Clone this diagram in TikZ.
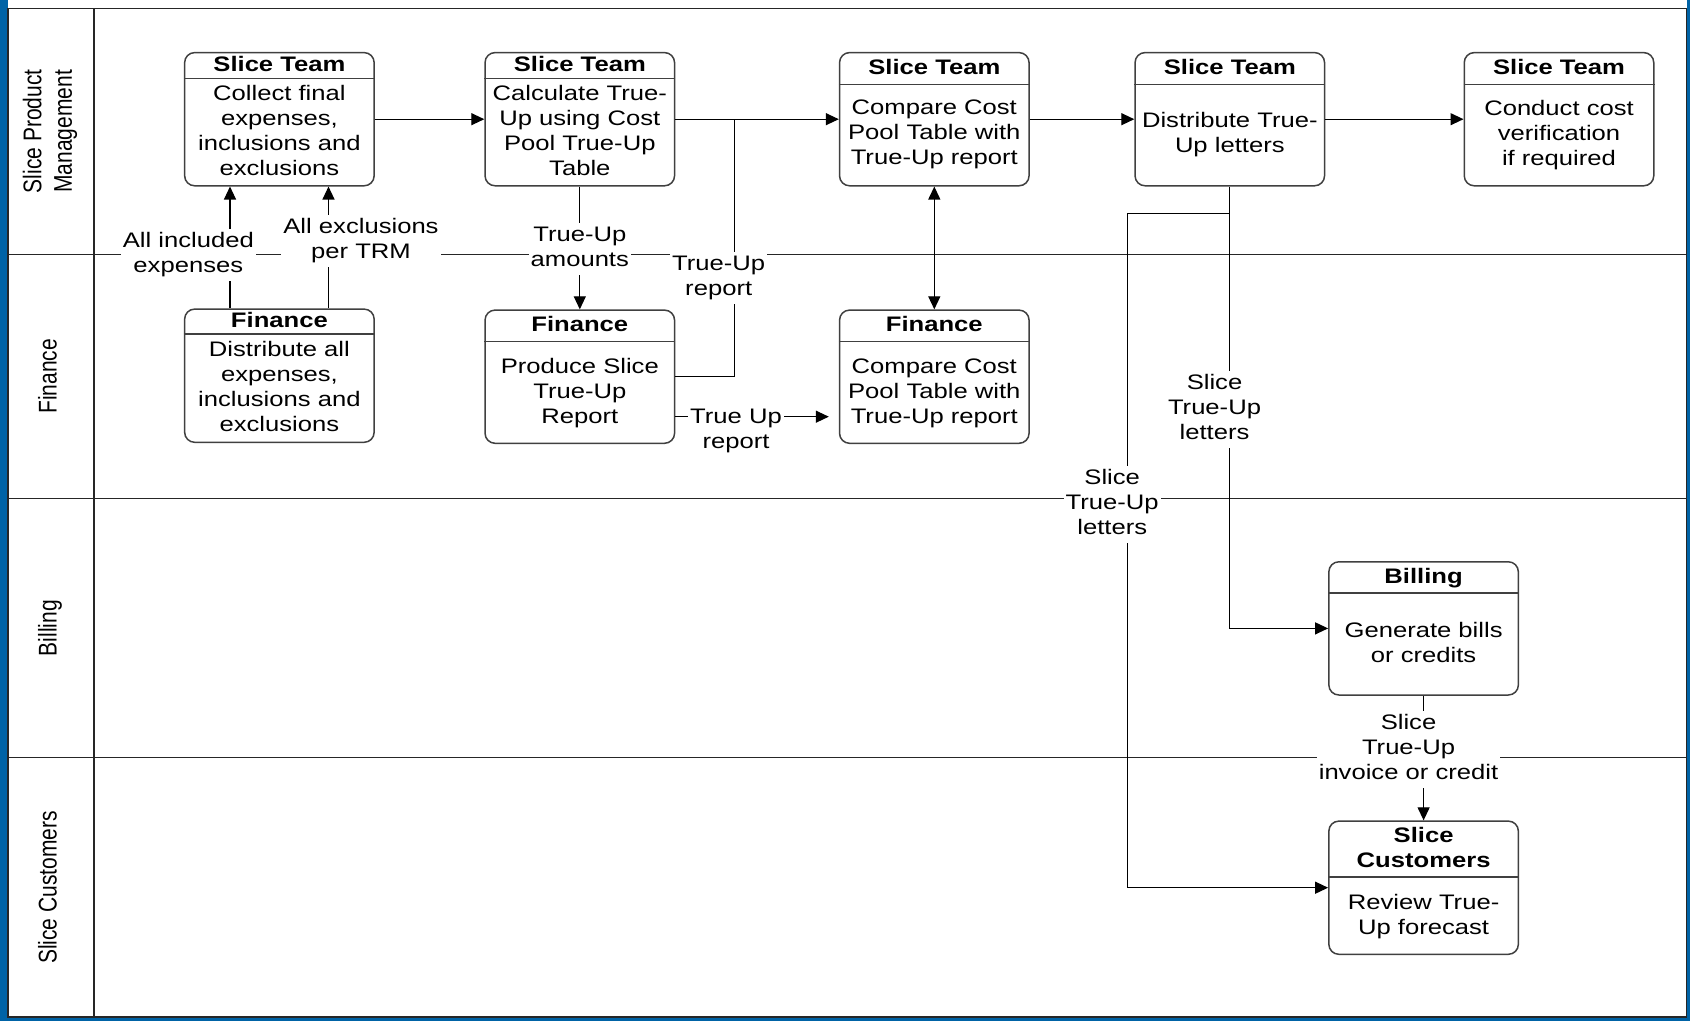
\documentclass[tikz,border=0pt]{standalone}
\usepackage{fontspec}
\setmainfont{Liberation Sans}
\usepackage{graphicx}
\usetikzlibrary{arrows.meta}
\definecolor{frameblue}{RGB}{0,99,166}
\newcommand\hs[1]{\scalebox{1.22}[1]{\begin{tabular}{@{}c@{}}#1\end{tabular}}}
\newcommand\vsc[1]{\scalebox{1}[1.22]{\begin{tabular}{@{}c@{}}#1\end{tabular}}}
\newcommand\mytask[8]{%
  \node[tbox] (#1) at (#2,#3) {};
  \draw[divline] (#1.west |- 0,#4) -- (#1.east |- 0,#4);
  \node[txt] (#1h) at (#2,#5) {\hs{#6}};
  \node[txt] (#1b) at (#2,#7) {\hs{#8}};}
\begin{document}
\begin{tikzpicture}[x=0.5pt,y=-0.5pt,
  font=\fontsize{10.5}{12.5}\selectfont,
  tbox/.style={draw=black!75, line width=0.75pt, rounded corners=5pt, minimum width=94.75pt, minimum height=66.6pt, inner sep=0pt, fill=white},
  divline/.style={draw=black!75, line width=0.75pt},
  lane/.style={draw=black!85, line width=0.75pt},
  tip/.tip={Triangle[length=6.5pt,width=6pt]},
  conn/.style={draw=black, line width=0.6pt, -tip},
  plain/.style={draw=black, line width=0.6pt},
  lbl/.style={fill=white, inner xsep=1pt, inner ysep=0.5pt},
  txt/.style={inner sep=0pt},
  lanelbl/.style={rotate=90, inner sep=0pt}]

\useasboundingbox (0,0) rectangle (1690,1021);
\fill[frameblue] (0,0) rectangle (1690,1021);
\fill[white] (7.5,0) rectangle (1687,1018);
\draw[lane] (8,8.3) rectangle (1686.6,1017);
\draw[lane] (93.8,8.3) -- (93.8,1017);
\draw[lane] (8,254.3) -- (1686.6,254.3);
\draw[lane] (8,498.5) -- (1686.6,498.5);
\draw[lane] (8,757.7) -- (1686.6,757.7);

% lane labels
\node[lanelbl] (lnA) at (50.5,131.3) {\vsc{Slice Product\\Management}};
\node[lanelbl] (lnB) at (50.5,376.4) {\vsc{Finance}};
\node[lanelbl] (lnC) at (50.5,628) {\vsc{Billing}};
\node[lanelbl] (lnD) at (50.5,887.4) {\vsc{Slice Customers}};

% tasks
\mytask{st1}{279.4}{119.2}{78.3}{66.5}{\textbf{Slice Team}}{133}{Collect final\\expenses,\\inclusions and\\exclusions}
\mytask{st2}{579.8}{119.2}{78.3}{66.5}{\textbf{Slice Team}}{133}{Calculate True-\\Up using Cost\\Pool True-Up\\Table}
\mytask{st3}{934.3}{119.2}{84.3}{69.5}{\textbf{Slice Team}}{135}{Compare Cost\\Pool Table with\\True-Up report}
\mytask{st4}{1229.8}{119.2}{84.3}{69.5}{\textbf{Slice Team}}{135.5}{Distribute True-\\Up letters}
\mytask{st5}{1559}{119.2}{84.3}{69.5}{\textbf{Slice Team}}{135.5}{Conduct cost\\verification\\if required}
\mytask{f1}{279.4}{375.7}{334}{322.5}{\textbf{Finance}}{389}{Distribute all\\expenses,\\inclusions and\\exclusions}
\mytask{f2}{579.8}{376.7}{341.7}{327}{\textbf{Finance}}{393}{Produce Slice\\True-Up\\Report}
\mytask{f3}{934.3}{376.7}{341.7}{327}{\textbf{Finance}}{393}{Compare Cost\\Pool Table with\\True-Up report}
\mytask{b1}{1423.6}{628.4}{593.2}{578.5}{\textbf{Billing}}{645}{Generate bills\\or credits}
\mytask{c1}{1423.6}{887.7}{877}{849.5}{\textbf{Slice}\\\textbf{Customers}}{917}{Review True-\\Up forecast}

% connectors
\coordinate (j1) at (734.5,119.2);
\coordinate (j2) at (1229.8,213.3);
\coordinate (j3) at (1127.6,213.3);

\draw[conn] (st1.east) -- (st2.west);
\draw[conn] (st2.east) -- (st3.west);
\draw[plain] (f2.east) -| (j1);
\draw[conn] (st3.east) -- (st4.west);
\draw[conn] (st4.east) -- (st5.west);
\draw[conn] ([xshift=-24.7pt]f1.north) -- ([xshift=-24.7pt]st1.south);
\draw[conn] ([xshift=24.55pt]f1.north) -- ([xshift=24.55pt]st1.south);
\draw[conn] (st2.south) -- (f2.north);
\draw[conn, tip-tip] (st3.south) -- (f3.north);
\draw[conn, shorten >=5pt] ([yshift=-20pt]f2.east) -- ([yshift=-20pt]f3.west);
\draw[conn] (st4.south) |- (b1.west);
\draw[conn] (j2) -- (j3) |- (c1.west);
\draw[conn] (b1.south) -- (c1.north);

% labels
\node[lbl] (la) at (188.3,255) {\hs{All included\\expenses}};
\node[lbl] (lb) at (361,241.5) {\hs{All exclusions\\per TRM}};
\node[lbl] (lc) at (579.8,249) {\hs{True-Up\\amounts}};
\node[lbl] (ld) at (718.7,278) {\hs{True-Up\\report}};
\node[lbl] (le) at (736,431) {\hs{True Up\\report}};
\node[lbl] (lf) at (1214.5,409) {\hs{Slice\\True-Up\\letters}};
\node[lbl] (lg) at (1112.2,504.5) {\hs{Slice\\True-Up\\letters}};
\node[lbl] (lh) at (1408.5,749) {\hs{Slice\\True-Up\\invoice or credit}};
\end{tikzpicture}
\end{document}
